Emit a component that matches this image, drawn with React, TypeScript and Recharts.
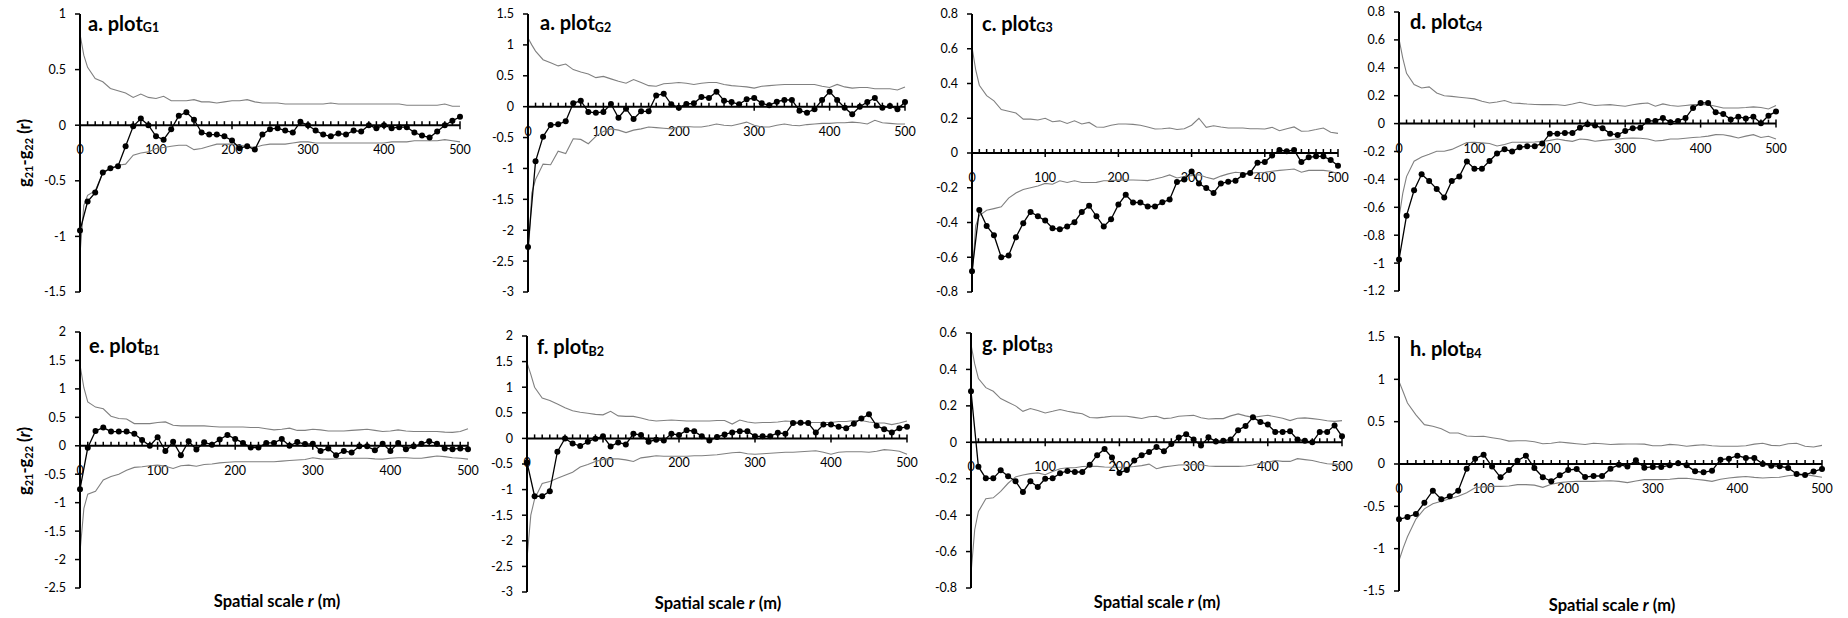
import React from 'react';
import { LineChart, Line, XAxis, YAxis, ReferenceLine } from 'recharts';

// ---------- x grids ----------
const OBS_X = [0,10,20,30,40,50,60,70,80,90,100,110,120,130,140,150,160,170,180,190,200,210,220,230,240,250,260,270,280,290,300,310,320,330,340,350,360,370,380,390,400,410,420,430,440,450,460,470,480,490,500];
const ENV_X = [0,5,10,20,30,40,50,60,70,80,90,100,110,120,130,140,150,160,170,180,190,200,210,220,230,240,250,260,270,280,290,300,310,320,330,340,350,360,370,380,390,400,410,420,430,440,450,460,470,480,490,500];
const X_MAJOR = [0,100,200,300,400,500];
const X_MINOR = OBS_X.filter(v => v % 100 !== 0);

// ---------- panel a ----------
const A_OBS = [-0.947,-0.686,-0.606,-0.426,-0.387,-0.369,-0.189,-0.01,0.06,0.0,
 -0.10,-0.13,-0.036,0.084,0.117,0.05,-0.066,-0.084,-0.084,-0.10,
 -0.138,-0.207,-0.189,-0.219,-0.084,-0.036,-0.027,-0.048,-0.066,0.03,
 0.0,-0.048,-0.084,-0.10,-0.075,-0.084,-0.048,-0.057,0.0,-0.027,
 0.0,-0.027,-0.018,-0.018,-0.066,-0.093,-0.11,-0.057,0.0,0.04,
 0.075];
const A_UP = [0.82,0.63,
 0.52,0.42,0.39,0.33,0.31,0.29,0.25,0.28,0.25,0.24,
 0.26,0.22,0.22,0.22,0.23,0.21,0.21,0.20,0.21,0.22,
 0.22,0.23,0.21,0.20,0.20,0.20,0.19,0.19,0.19,0.19,
 0.19,0.19,0.20,0.19,0.19,0.19,0.19,0.19,0.19,0.19,
 0.19,0.19,0.18,0.18,0.18,0.18,0.18,0.19,0.17,0.17];
const A_LO = [-1.16,-0.72,
 -0.63,-0.59,-0.43,-0.39,-0.36,-0.35,-0.27,-0.25,-0.24,-0.21,
 -0.20,-0.19,-0.18,-0.18,-0.22,-0.21,-0.19,-0.17,-0.17,-0.17,
 -0.18,-0.19,-0.20,-0.18,-0.17,-0.17,-0.17,-0.16,-0.15,-0.15,
 -0.16,-0.16,-0.16,-0.16,-0.16,-0.16,-0.16,-0.16,-0.16,-0.16,
 -0.15,-0.15,-0.15,-0.14,-0.14,-0.14,-0.14,-0.13,-0.14,-0.15];
const A_YT = [-1.5,-1,-0.5,0,0.5,1];

// ---------- panel b ----------
const B_OBS = [-2.27,-0.885,-0.485,-0.297,-0.286,-0.237,0.054,0.097,-0.086,-0.10,
 -0.086,0.043,-0.18,-0.032,-0.20,-0.075,-0.075,0.18,0.21,0.038,
 -0.016,0.043,0.054,0.156,0.14,0.243,0.097,0.075,0.038,0.119,
 0.14,0.054,0.022,0.081,0.108,0.108,-0.065,-0.097,-0.043,0.108,
 0.243,0.108,-0.016,-0.124,0.0,0.075,0.14,-0.016,0.011,-0.043,
 0.075];
const B_UP = [1.11,1.0,
 0.90,0.76,0.71,0.66,0.69,0.60,0.56,0.53,0.47,0.49,
 0.45,0.41,0.38,0.44,0.39,0.34,0.33,0.37,0.38,0.39,
 0.38,0.36,0.38,0.39,0.39,0.36,0.34,0.33,0.32,0.30,
 0.33,0.34,0.35,0.36,0.36,0.36,0.36,0.36,0.33,0.31,
 0.36,0.32,0.30,0.31,0.31,0.29,0.29,0.29,0.27,0.32];
const B_LO = [-2.49,-1.40,
 -1.18,-0.93,-0.94,-0.72,-0.76,-0.52,-0.53,-0.60,-0.48,-0.40,
 -0.36,-0.38,-0.42,-0.38,-0.36,-0.33,-0.34,-0.35,-0.36,-0.33,
 -0.32,-0.33,-0.33,-0.31,-0.28,-0.30,-0.31,-0.28,-0.25,-0.30,
 -0.33,-0.33,-0.30,-0.28,-0.30,-0.31,-0.29,-0.28,-0.27,-0.27,
 -0.26,-0.26,-0.25,-0.26,-0.28,-0.22,-0.26,-0.27,-0.28,-0.28];
const B_YT = [-3,-2.5,-2,-1.5,-1,-0.5,0,0.5,1,1.5];

// ---------- panel c ----------
const C_OBS = [-0.68,-0.328,-0.42,-0.473,-0.60,-0.59,-0.485,-0.404,-0.339,-0.364,
 -0.389,-0.433,-0.439,-0.423,-0.398,-0.339,-0.303,-0.364,-0.423,-0.381,
 -0.297,-0.241,-0.285,-0.285,-0.308,-0.308,-0.284,-0.268,-0.167,-0.153,
 -0.107,-0.176,-0.201,-0.23,-0.176,-0.165,-0.159,-0.126,-0.115,-0.056,
 -0.052,-0.015,0.017,0.01,0.017,-0.052,-0.025,-0.019,-0.019,-0.04,
 -0.073];
const C_UP = [0.61,0.48,
 0.39,0.33,0.30,0.25,0.24,0.23,0.195,0.195,0.19,0.20,
 0.18,0.185,0.17,0.185,0.167,0.176,0.15,0.148,0.16,0.167,
 0.167,0.165,0.16,0.15,0.138,0.14,0.144,0.135,0.14,0.16,
 0.20,0.148,0.157,0.15,0.144,0.144,0.144,0.14,0.14,0.138,
 0.148,0.128,0.14,0.15,0.125,0.127,0.135,0.144,0.119,0.113];
const C_LO = [-0.73,-0.42,
 -0.36,-0.33,-0.32,-0.31,-0.26,-0.23,-0.21,-0.20,-0.19,-0.175,
 -0.18,-0.16,-0.17,-0.16,-0.17,-0.17,-0.169,-0.16,-0.159,-0.156,
 -0.155,-0.155,-0.157,-0.159,-0.15,-0.14,-0.126,-0.144,-0.135,-0.13,
 -0.125,-0.14,-0.15,-0.133,-0.12,-0.111,-0.115,-0.117,-0.112,-0.111,
 -0.105,-0.10,-0.096,-0.092,-0.111,-0.10,-0.10,-0.10,-0.105,-0.12];
const C_YT = [-0.8,-0.6,-0.4,-0.2,0,0.2,0.4,0.6,0.8];

// ---------- panel d ----------
const D_OBS = [-0.975,-0.66,-0.478,-0.363,-0.411,-0.468,-0.53,-0.411,-0.38,-0.272,
 -0.323,-0.323,-0.268,-0.215,-0.184,-0.20,-0.17,-0.162,-0.162,-0.143,
 -0.072,-0.072,-0.067,-0.067,-0.029,-0.005,-0.014,-0.033,-0.072,-0.081,
 -0.053,-0.033,-0.029,0.019,0.019,0.04,0.01,0.019,0.04,0.112,
 0.148,0.148,0.081,0.069,0.029,0.05,0.036,0.05,0.002,0.057,
 0.086];
const D_UP = [0.607,0.47,
 0.36,0.28,0.255,0.263,0.22,0.20,0.195,0.189,0.183,0.177,
 0.16,0.148,0.155,0.165,0.148,0.145,0.14,0.137,0.136,0.136,
 0.135,0.13,0.14,0.153,0.14,0.13,0.133,0.136,0.13,0.124,
 0.135,0.143,0.148,0.125,0.141,0.13,0.124,0.13,0.136,0.136,
 0.136,0.125,0.112,0.112,0.112,0.115,0.12,0.115,0.105,0.129];
const D_LO = [-0.676,-0.50,
 -0.38,-0.27,-0.24,-0.22,-0.198,-0.198,-0.185,-0.16,-0.135,-0.134,
 -0.138,-0.143,-0.16,-0.15,-0.134,-0.134,-0.134,-0.132,-0.128,-0.12,
 -0.11,-0.12,-0.127,-0.11,-0.115,-0.126,-0.12,-0.115,-0.11,-0.105,
 -0.103,-0.105,-0.11,-0.125,-0.12,-0.11,-0.11,-0.105,-0.10,-0.096,
 -0.09,-0.079,-0.08,-0.09,-0.103,-0.09,-0.079,-0.10,-0.091,-0.11];
const D_YT = [-1.2,-1,-0.8,-0.6,-0.4,-0.2,0,0.2,0.4,0.6,0.8];

// ---------- panel e ----------
const E_OBS = [-0.764,-0.035,0.26,0.32,0.25,0.25,0.25,0.21,0.10,0.0,
 0.15,-0.09,0.07,-0.165,0.08,-0.065,0.06,0.02,0.11,0.19,
 0.12,0.05,-0.03,-0.03,0.05,0.05,0.12,0.0,0.065,0.03,
 0.035,-0.09,-0.047,-0.165,-0.09,-0.12,-0.01,-0.01,-0.08,0.035,
 -0.09,0.05,-0.06,-0.01,0.035,0.08,0.035,-0.047,-0.06,-0.047,
 -0.06];
const E_UP = [1.42,1.02,
 0.77,0.68,0.65,0.52,0.48,0.47,0.39,0.39,0.39,0.41,
 0.42,0.36,0.35,0.35,0.35,0.35,0.34,0.33,0.33,0.33,
 0.33,0.32,0.32,0.30,0.28,0.29,0.31,0.27,0.27,0.29,
 0.28,0.26,0.26,0.26,0.27,0.28,0.29,0.27,0.25,0.26,
 0.28,0.26,0.25,0.25,0.25,0.25,0.24,0.235,0.25,0.30];
const E_LO = [-1.87,-1.1,
 -0.85,-0.80,-0.60,-0.54,-0.50,-0.43,-0.38,-0.37,-0.35,-0.34,
 -0.36,-0.40,-0.35,-0.34,-0.36,-0.33,-0.32,-0.30,-0.29,-0.28,
 -0.28,-0.28,-0.28,-0.28,-0.28,-0.27,-0.26,-0.25,-0.24,-0.21,
 -0.23,-0.235,-0.23,-0.22,-0.22,-0.22,-0.22,-0.23,-0.235,-0.22,
 -0.21,-0.21,-0.22,-0.22,-0.2,-0.18,-0.19,-0.21,-0.22,-0.235];
const E_YT = [-2.5,-2,-1.5,-1,-0.5,0,0.5,1,1.5,2];

// ---------- panel f ----------
const F_OBS = [-0.47,-1.13,-1.13,-1.03,-0.26,0.0,-0.10,-0.15,-0.065,-0.006,
 0.04,-0.156,-0.078,-0.117,0.09,0.065,-0.065,-0.026,-0.039,0.09,
 0.065,0.16,0.14,0.04,-0.039,0.026,0.078,0.117,0.14,0.14,
 0.04,0.04,0.04,0.11,0.09,0.30,0.305,0.30,0.117,0.27,
 0.27,0.227,0.20,0.286,0.39,0.47,0.247,0.18,0.117,0.20,
 0.227];
const F_UP = [1.48,1.25,
 1.0,0.79,0.74,0.67,0.60,0.54,0.51,0.49,0.47,0.46,
 0.53,0.44,0.43,0.43,0.40,0.36,0.34,0.35,0.36,0.35,
 0.34,0.34,0.34,0.34,0.35,0.35,0.28,0.36,0.32,0.30,
 0.31,0.31,0.32,0.34,0.33,0.31,0.31,0.31,0.31,0.31,
 0.33,0.33,0.35,0.35,0.32,0.30,0.30,0.27,0.30,0.34];
const F_LO = [-2.35,-1.5,
 -1.18,-0.88,-0.84,-0.78,-0.72,-0.66,-0.56,-0.51,-0.45,-0.41,
 -0.40,-0.40,-0.42,-0.45,-0.38,-0.36,-0.34,-0.35,-0.35,-0.35,
 -0.35,-0.34,-0.34,-0.33,-0.32,-0.30,-0.28,-0.27,-0.30,-0.31,
 -0.30,-0.29,-0.28,-0.27,-0.27,-0.26,-0.25,-0.24,-0.27,-0.31,
 -0.27,-0.26,-0.26,-0.26,-0.27,-0.25,-0.22,-0.23,-0.25,-0.31];
const F_YT = [-3,-2.5,-2,-1.5,-1,-0.5,0,0.5,1,1.5,2];

// ---------- panel g ----------
const G_OBS = [0.28,-0.134,-0.198,-0.198,-0.154,-0.187,-0.214,-0.273,-0.214,-0.245,
 -0.20,-0.198,-0.17,-0.157,-0.163,-0.163,-0.124,-0.071,-0.037,-0.084,
 -0.168,-0.152,-0.10,-0.071,-0.053,-0.026,-0.049,-0.009,0.026,0.044,
 0.015,-0.018,0.027,0.005,0.009,0.015,0.066,0.09,0.137,0.112,
 0.097,0.057,0.057,0.06,0.015,0.009,0.0,0.057,0.057,0.092,
 0.033];
const G_UP = [0.536,0.43,
 0.35,0.30,0.28,0.24,0.22,0.20,0.17,0.185,0.175,0.161,
 0.17,0.18,0.17,0.163,0.157,0.136,0.134,0.138,0.143,0.143,
 0.143,0.137,0.131,0.14,0.143,0.13,0.133,0.143,0.146,0.148,
 0.135,0.128,0.13,0.13,0.145,0.156,0.145,0.137,0.143,0.148,
 0.14,0.132,0.119,0.132,0.134,0.13,0.125,0.118,0.115,0.119];
const G_LO = [-0.72,-0.48,
 -0.38,-0.31,-0.305,-0.27,-0.225,-0.19,-0.18,-0.172,-0.168,-0.178,
 -0.16,-0.145,-0.14,-0.14,-0.133,-0.132,-0.132,-0.136,-0.137,-0.137,
 -0.137,-0.133,-0.128,-0.12,-0.145,-0.135,-0.13,-0.125,-0.123,-0.123,
 -0.123,-0.13,-0.132,-0.132,-0.132,-0.132,-0.13,-0.125,-0.115,-0.11,
 -0.10,-0.105,-0.105,-0.09,-0.095,-0.10,-0.11,-0.118,-0.12,-0.123];
const G_YT = [-0.8,-0.6,-0.4,-0.2,0,0.2,0.4,0.6];

// ---------- panel h ----------
const H_OBS = [-0.654,-0.626,-0.59,-0.457,-0.315,-0.417,-0.382,-0.315,-0.055,0.063,
 0.11,-0.031,-0.157,-0.071,0.039,0.098,-0.047,-0.157,-0.205,-0.134,
 -0.071,-0.059,-0.154,-0.142,-0.142,-0.055,-0.008,-0.031,0.043,-0.043,
 -0.035,-0.035,-0.016,0.008,-0.016,-0.087,-0.098,-0.079,0.051,0.063,
 0.098,0.071,0.071,0.0,-0.02,-0.028,-0.047,-0.118,-0.13,-0.09,
 -0.059];
const H_UP = [0.976,0.85,
 0.72,0.58,0.465,0.445,0.417,0.366,0.366,0.33,0.325,0.327,
 0.31,0.295,0.27,0.275,0.275,0.262,0.24,0.245,0.26,0.25,
 0.24,0.23,0.245,0.24,0.23,0.235,0.236,0.236,0.235,0.215,
 0.215,0.232,0.225,0.209,0.22,0.228,0.215,0.209,0.209,0.209,
 0.215,0.235,0.245,0.22,0.215,0.24,0.245,0.21,0.2,0.22];
const H_LO = [-1.14,-0.99,
 -0.86,-0.65,-0.53,-0.47,-0.44,-0.41,-0.38,-0.34,-0.28,-0.27,
 -0.264,-0.264,-0.26,-0.244,-0.244,-0.25,-0.276,-0.24,-0.22,-0.21,
 -0.205,-0.205,-0.205,-0.2,-0.197,-0.205,-0.22,-0.2,-0.185,-0.185,
 -0.185,-0.18,-0.17,-0.168,-0.18,-0.19,-0.205,-0.18,-0.165,-0.155,
 -0.148,-0.158,-0.165,-0.16,-0.157,-0.138,-0.13,-0.126,-0.14,-0.157];
const H_YT = [-1.5,-1,-0.5,0,0.5,1,1.5];

const FONT = "Lato, 'Open Sans', 'DejaVu Sans', sans-serif";
const ENV_COLOR = '#808080';

function build(obs: number[], up: number[], lo: number[]) {
  return ENV_X.map((x, i) => {
    const oi = OBS_X.indexOf(x);
    return {
      x,
      up: up[i] ?? null,
      lo: lo[i] ?? null,
      obs: oi >= 0 ? (obs[oi] ?? null) : null,
    };
  });
}

type PanelCfg = {
  key: string; title: string; sub: string;
  obs: number[]; up: number[]; lo: number[]; yt: number[];
  left: number; right: number; top: number; bottom: number;
  tx: number; ty: number;
};

const PANELS: PanelCfg[] = [
  { key: 'a', title: 'a. plot', sub: 'G1', obs: A_OBS, up: A_UP, lo: A_LO, yt: A_YT, left: 80, right: 460, top: 14, bottom: 292, tx: 88, ty: 30.5 },
  { key: 'b', title: 'a. plot', sub: 'G2', obs: B_OBS, up: B_UP, lo: B_LO, yt: B_YT, left: 528, right: 905, top: 14, bottom: 292, tx: 540, ty: 30 },
  { key: 'c', title: 'c. plot', sub: 'G3', obs: C_OBS, up: C_UP, lo: C_LO, yt: C_YT, left: 972, right: 1338, top: 14, bottom: 292, tx: 982, ty: 30.5 },
  { key: 'd', title: 'd. plot', sub: 'G4', obs: D_OBS, up: D_UP, lo: D_LO, yt: D_YT, left: 1399, right: 1776, top: 12, bottom: 291, tx: 1410, ty: 29 },
  { key: 'e', title: 'e. plot', sub: 'B1', obs: E_OBS, up: E_UP, lo: E_LO, yt: E_YT, left: 80, right: 468, top: 332, bottom: 588, tx: 89, ty: 353 },
  { key: 'f', title: 'f. plot', sub: 'B2', obs: F_OBS, up: F_UP, lo: F_LO, yt: F_YT, left: 527, right: 907, top: 336, bottom: 592, tx: 537, ty: 354 },
  { key: 'g', title: 'g. plot', sub: 'B3', obs: G_OBS, up: G_UP, lo: G_LO, yt: G_YT, left: 971, right: 1342, top: 333, bottom: 588, tx: 982, ty: 351 },
  { key: 'h', title: 'h. plot', sub: 'B4', obs: H_OBS, up: H_UP, lo: H_LO, yt: H_YT, left: 1399, right: 1822, top: 337, bottom: 591, tx: 1410, ty: 356 },
];

const X_TITLES = [
  { x: 277, y: 607 },
  { x: 718, y: 609 },
  { x: 1157, y: 608 },
  { x: 1612, y: 611 },
];

const ZeroAxis = (props: any) => {
  const { x1, x2, y1 } = props;
  if (x1 == null || x2 == null || y1 == null) return null;
  const sx = (v: number) => x1 + (v / 500) * (x2 - x1);
  return (
    <g>
      <line x1={x1} x2={x2} y1={y1} y2={y1} stroke="#000" strokeWidth={2} />
      {X_MINOR.map(v => (
        <line key={'m' + v} x1={sx(v)} x2={sx(v)} y1={y1 - 4} y2={y1} stroke="#000" strokeWidth={1.5} />
      ))}
      {X_MAJOR.map(v => (
        <line key={'M' + v} x1={sx(v)} x2={sx(v)} y1={y1 - 4} y2={y1 + 4} stroke="#000" strokeWidth={1.5} />
      ))}
      {X_MAJOR.map(v => (
        <text key={'t' + v} x={sx(v)} y={y1 + 29} textAnchor="middle" fontFamily={FONT} fontSize={12.5} fill="#000">{v}</text>
      ))}
    </g>
  );
};

function Panel({ p }: { p: PanelCfg }) {
  const data = build(p.obs, p.up, p.lo);
  const w = p.right - p.left + 80;
  const h = p.bottom - p.top + 20;
  const ymin = p.yt[0];
  const ymax = p.yt[p.yt.length - 1];
  return (
    <div style={{ position: 'absolute', left: p.left - 60, top: p.top - 10 }}>
      <LineChart width={w} height={h} data={data} margin={{ top: 10, right: 20, bottom: 10, left: 0 }}>
        <XAxis type="number" dataKey="x" domain={[0, 500]} hide />
        <YAxis
          type="number"
          domain={[ymin, ymax]}
          ticks={p.yt}
          interval={0}
          width={60}
          axisLine={{ stroke: '#000', strokeWidth: 2 }}
          tickLine={{ stroke: '#000', strokeWidth: 1.5 }}
          tickSize={5}
          tickMargin={9}
          tick={{ fill: '#000', fontSize: 12.5, fontFamily: FONT }}
        />
        <ReferenceLine y={0} shape={ZeroAxis} />
        <Line type="linear" dataKey="up" stroke={ENV_COLOR} strokeWidth={1.1} dot={false} isAnimationActive={false} connectNulls />
        <Line type="linear" dataKey="lo" stroke={ENV_COLOR} strokeWidth={1.1} dot={false} isAnimationActive={false} connectNulls />
        <Line type="linear" dataKey="obs" stroke="#000" strokeWidth={1.3} connectNulls
          dot={{ r: 3, fill: '#000', stroke: '#000', strokeWidth: 0 }} isAnimationActive={false} />
      </LineChart>
    </div>
  );
}

function YTitle({ cy, italic }: { cy: number; italic: boolean }) {
  const sub: React.CSSProperties = { fontSize: 11, position: 'relative', top: 3 };
  return (
    <div style={{
      position: 'absolute', left: 24 - 100, top: cy - 12, width: 200, height: 24, lineHeight: '24px',
      textAlign: 'center', transform: 'rotate(-90deg)', transformOrigin: '50% 50%',
      fontFamily: FONT, fontWeight: 'bold', fontSize: 16.5, color: '#000', whiteSpace: 'nowrap',
    }}>
      g<span style={sub}>21</span>-g<span style={sub}>22</span> (<span style={{ fontStyle: italic ? 'italic' : 'normal' }}>r</span>)
    </div>
  );
}

export default function App() {
  return (
    <div style={{ position: 'fixed', left: 0, top: 0, width: 1848, height: 618, background: '#fff', overflow: 'hidden' }}>
      {PANELS.map(p => <Panel key={p.key} p={p} />)}
      <svg width={1848} height={618} style={{ position: 'absolute', left: 0, top: 0, pointerEvents: 'none' }}>
        {PANELS.map(p => (
          <text key={'T' + p.key} x={p.tx} y={p.ty} fontFamily={FONT} fontWeight="bold" fontSize={20} fill="#000">
            {p.title}<tspan fontSize={12.5} dy={1.5}>{p.sub}</tspan>
          </text>
        ))}
        {X_TITLES.map((t, i) => (
          <text key={'X' + i} x={t.x} y={t.y} textAnchor="middle" fontFamily={FONT} fontWeight="bold" fontSize={16.5} fill="#000">
            Spatial scale <tspan fontStyle="italic">r</tspan> (m)
          </text>
        ))}
      </svg>
      <YTitle cy={153} italic={false} />
      <YTitle cy={461} italic={true} />
    </div>
  );
}
